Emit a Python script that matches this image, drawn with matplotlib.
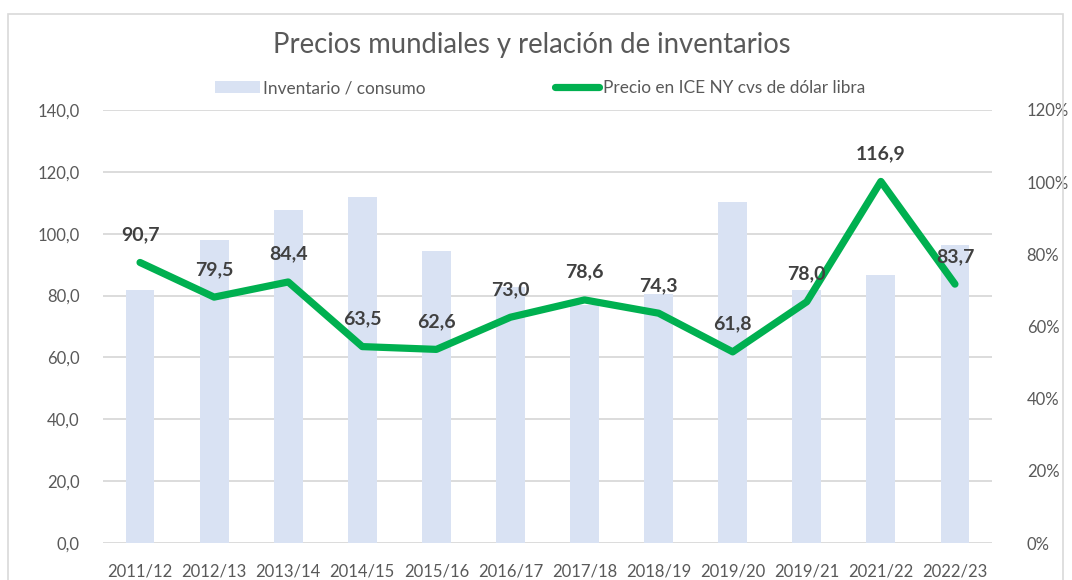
import numpy as np
import matplotlib.pyplot as plt
from matplotlib.patches import Patch, Rectangle
from matplotlib.lines import Line2D

plt.rcParams['font.family'] = ['Lato', 'DejaVu Sans']

# Datos
campanas = ['2011/12', '2012/13', '2013/14', '2014/15', '2015/16', '2016/17',
            '2017/18', '2018/19', '2019/20', '2019/21', '2021/22', '2022/23']
inventario_consumo = [0.701, 0.840, 0.923, 0.959, 0.809, 0.71,
                      0.66, 0.69, 0.945, 0.701, 0.743, 0.826]
precio_ice = [90.7, 79.5, 84.4, 63.5, 62.6, 73.0, 78.6, 74.3, 61.8, 78.0, 116.9, 83.7]

gris = '#595959'
gris_grid = '#D9D9D9'
azul_barra = '#D9E2F3'
verde = '#00B050'

fig = plt.figure(figsize=(10.72, 5.8), dpi=100)
# borde del gráfico
fig.patches.append(Rectangle((8 / 1072, -0.05), (1063 - 8) / 1072, 1.05 - 14 / 580,
                             transform=fig.transFigure, fill=False,
                             edgecolor=gris_grid, linewidth=1.2))

ax = fig.add_axes([103 / 1072, 1 - 543 / 580, (992 - 103) / 1072, (543 - 110) / 580])
x = np.arange(len(campanas))

# Barras (eje derecho, %)
ax.bar(x, inventario_consumo, width=0.39, color=azul_barra, zorder=2)
ax.set_ylim(0, 1.2)
ax.set_xlim(-0.5, len(campanas) - 0.5)
ax.set_xticks(x)
ax.set_xticklabels(campanas)

# Línea (eje izquierdo)
ax2 = ax.twinx()
ax2.set_ylim(0, 140)
ax2.set_yticks(np.arange(0, 141, 20))
ax2.set_yticklabels([f'{v:.1f}'.replace('.', ',') for v in np.arange(0, 141, 20)])
ax2.yaxis.tick_left()
ax2.tick_params(axis='y', length=0, labelsize=12, labelcolor=gris, pad=17)

ax.set_yticks(np.arange(0, 1.21, 0.2))
ax.set_yticklabels([f'{int(round(v * 100))}%' for v in np.arange(0, 1.21, 0.2)])
ax.yaxis.tick_right()
ax.tick_params(axis='both', length=0, labelsize=12, labelcolor=gris)
ax.tick_params(axis='y', pad=25)
ax.tick_params(axis='x', pad=15)

for v in np.arange(0, 141, 20):
    ax.axhline(v / 140 * 1.2, color=gris_grid, linewidth=1.3, zorder=1)

ax2.plot(x, precio_ice, color=verde, linewidth=5.2, solid_capstyle='round',
         solid_joinstyle='round', zorder=3)
for xi, v in zip(x, precio_ice):
    ax2.annotate(f'{v:.1f}'.replace('.', ','), (xi, v), xytext=(0, 20),
                 textcoords='offset points', ha='center', va='center',
                 fontsize=14, fontweight='bold', color='#404040')

for a in (ax, ax2):
    for s in a.spines.values():
        s.set_visible(False)

fig.text(532 / 1072, 1 - 45 / 580, 'Precios mundiales y relación de inventarios',
         ha='center', va='center', fontsize=19.8, color=gris)

handles = [Patch(facecolor=azul_barra, edgecolor='none'),
           Line2D([0], [0], color=verde, linewidth=5.2, solid_capstyle='round')]
fig.legend(handles, ['Inventario / consumo', 'Precio en ICE NY cvs de dólar libra'],
           loc='center', bbox_to_anchor=(540 / 1072, 1 - 88 / 580), ncol=2,
           frameon=False, fontsize=12.4, labelcolor=gris, handlelength=2.6,
           handletextpad=0.2, columnspacing=7.5, handleheight=0.7)

plt.savefig('out.png', dpi=100)
plt.close()
